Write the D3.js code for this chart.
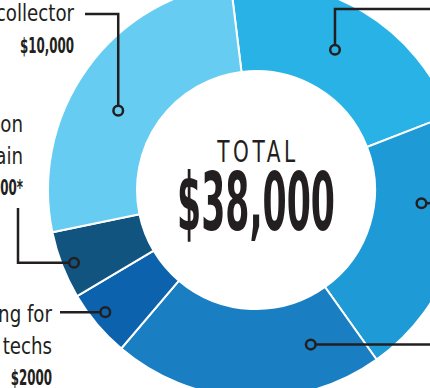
<!DOCTYPE html>
<html>
<head>
<meta charset="utf-8">
<script src="https://cdn.jsdelivr.net/npm/d3@7"></script>
<style>
  html, body { margin: 0; padding: 0; background: #fff; }
  svg { display: block; }
  text { font-family: 'Liberation Sans Narrow', 'DejaVu Sans Condensed', 'Open Sans', sans-serif; fill: #231F20; }
</style>
</head>
<body>
<svg id="chart" width="430" height="388"></svg>
<script>
// ---- data ----
const categories = ["Software licences", "Hardware upgrades", "Cloud storage", "Training for two techs", "Email migration to new domain", "Data collector"];
const values = [8000, 8000, 8000, 2000, 2000, 10000];
const valueLabels = ["$8,000", "$8,000", "$8,000", "$2000", "$2000*", "$10,000"];
const labelLines = [[], [], [], ["Training for", "two techs"], ["Email migration", "to new domain"], ["Data collector"]];
const colors = ["#29B2E5", "#1E9AD6", "#1A7EC3", "#0D62AD", "#11547F", "#67CCF2"];
const totalLabel = "TOTAL";
const totalValue = "$38,000";

// ---- layout ----
const W = 430, H = 388;
const cx = 256, cy = 190;
const rOuter = 208, rInner = 119;
const startDeg = -7;

const svg = d3.select("#chart");
const g = svg.append("g").attr("transform", `translate(${cx},${cy})`);

const pie = d3.pie().sort(null)
  .startAngle(startDeg * Math.PI / 180)
  .endAngle(startDeg * Math.PI / 180 + 2 * Math.PI);
const arcs = pie(values);
const arc = d3.arc().innerRadius(rInner).outerRadius(rOuter);

g.selectAll("path.slice").data(arcs).enter().append("path")
  .attr("class", "slice")
  .attr("d", arc)
  .attr("fill", (d, i) => colors[i])
  .attr("stroke", "#fff")
  .attr("stroke-width", 2);

// centre text
g.append("g").attr("transform", "translate(2,-28) scale(0.72,1)")
  .append("text").attr("x", 0).attr("y", 0)
  .attr("text-anchor", "middle")
  .attr("font-size", 31).attr("font-weight", 300)
  .attr("letter-spacing", 5)
  .text(totalLabel);
g.append("text").attr("x", 0).attr("y", 40)
  .attr("text-anchor", "middle")
  .attr("font-size", 80).attr("font-weight", 700)
  .attr("textLength", 158).attr("lengthAdjust", "spacingAndGlyphs")
  .text(totalValue);

// leader anchors: fraction along the slice angle, radius
const anchorSpec = [
  { t: 0.48, r: 161, path: "upRight" },
  { t: 0.34, r: 166, path: "right" },
  { t: 0.21, r: 164, path: "right" },
  { t: 0.56, r: 194, path: "left" },
  { t: 0.47, r: 196, path: "leftUp" },
  { t: 0.44, r: 159, path: "upLeft" }
];

const lineColor = "#231F20";
const leaders = svg.append("g");

arcs.forEach((d, i) => {
  const spec = anchorSpec[i];
  const a = d.startAngle + (d.endAngle - d.startAngle) * spec.t;
  const [px0, py0] = d3.pointRadial(a, spec.r);
  const px = cx + px0, py = cy + py0;
  let pts;
  if (spec.path === "upRight") pts = [[px, py], [px, 9], [W + 10, 9]];
  else if (spec.path === "right") pts = [[px, py], [W + 10, py]];
  else if (spec.path === "left") pts = [[px, py], [60, py]];
  else if (spec.path === "leftUp") pts = [[px, py], [18, py], [18, 208]];
  else if (spec.path === "upLeft") pts = [[px, py], [px, 14], [85, 14]];
  leaders.append("path")
    .attr("d", d3.line()(pts))
    .attr("fill", "none")
    .attr("stroke", lineColor)
    .attr("stroke-width", 2.5);
  leaders.append("circle")
    .attr("cx", px).attr("cy", py).attr("r", 4.8)
    .attr("fill", colors[i])
    .attr("stroke", lineColor)
    .attr("stroke-width", 2.5);
});

// side labels (only those within view)
const labelPos = {
  5: { x: 74, y: 21 },
  4: { x: 23, y: 132 },
  3: { x: 52, y: 322 }
};
const lineGap = 31.5;
Object.keys(labelPos).forEach(k => {
  const i = +k, p = labelPos[k];
  labelLines[i].forEach((ln, j) => {
    svg.append("g")
      .attr("transform", `translate(${p.x},${p.y + j * lineGap}) scale(0.88,1)`)
      .append("text").attr("x", 0).attr("y", 0)
      .attr("text-anchor", "end").attr("font-size", 23)
      .text(ln);
  });
  svg.append("g")
    .attr("transform", `translate(${p.x},${p.y + labelLines[i].length * lineGap}) scale(0.6,1)`)
    .append("text").attr("x", 0).attr("y", 0)
    .attr("text-anchor", "end").attr("font-size", 22).attr("font-weight", 700)
    .text(valueLabels[i]);
});
</script>
</body>
</html>
